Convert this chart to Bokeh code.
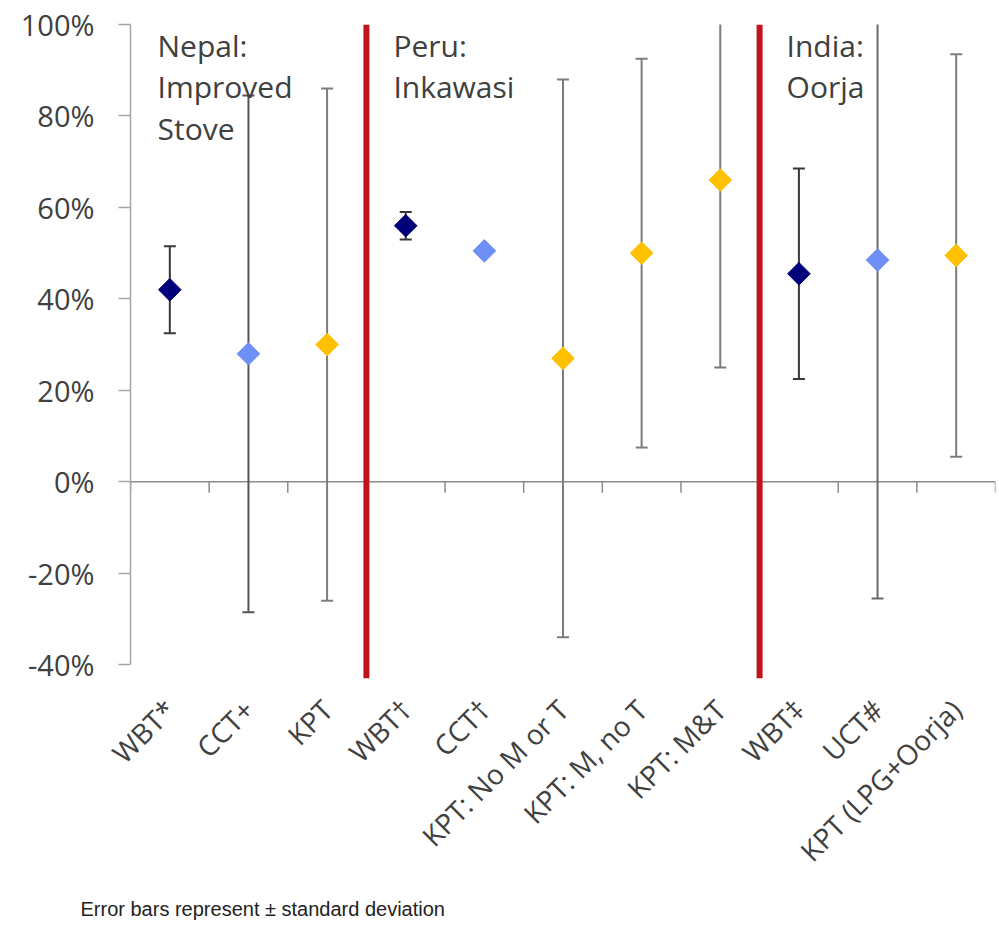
from math import pi, nan
from bokeh.plotting import figure
from bokeh.models import Range1d, FixedTicker, PrintfTickFormatter, Label, Span, ColumnDataSource, Title
from bokeh.core.properties import value
from bokeh.embed import file_html
from bokeh.resources import INLINE

# ---- data ----
categories = ["WBT*", "CCT+", "KPT", "WBT\u2020", "CCT\u2020", "KPT: No M or T",
              "KPT: M, no T", "KPT: M&T", "WBT\u2021", "UCT#", "KPT (LPG+Oorja)"]
test_type = ["WBT", "CCT", "KPT", "WBT", "CCT", "KPT", "KPT", "KPT", "WBT", "UCT", "KPT"]
mean_pct = [42, 28, 30, 56, 50.5, 27, 50, 66, 45.5, 48.5, 49.5]
sd_pct = [9.5, 56.5, 56, 3, nan, 61, 42.5, 41, 23, 74, 44]
group_names = ["Nepal:\nImproved\nStove", "Peru:\nInkawasi", "India:\nOorja"]
group_start = [0, 3, 8]
y_ticks = [-40, -20, 0, 20, 40, 60, 80, 100]
note = "Error bars represent \u00b1 standard deviation"

# ---- styles ----
marker_color = {"WBT": "#00007A", "CCT": "#6E8FF6", "UCT": "#6E8FF6", "KPT": "#FFC000"}
bar_color = {"WBT": "#383838", "CCT": "#555555", "UCT": "#6A6A6A", "KPT": "#7C7C7C"}
FONT = "Open Sans"
TXT = "#404040"

n = len(categories)
xs = list(range(n))
lower = [m - s for m, s in zip(mean_pct, sd_pct)]
upper = [m + s for m, s in zip(mean_pct, sd_pct)]

src = ColumnDataSource(dict(
    x=xs, mean=mean_pct, lower=lower, upper=upper,
    mc=[marker_color[t] for t in test_type],
    bc=[bar_color[t] for t in test_type],
))

Y0, Y1 = -43, 100
p = figure(width=999, height=929, output_backend="svg", toolbar_location=None,
           x_range=Range1d(-0.5, n - 0.5), y_range=Range1d(Y0, Y1),
           min_border_left=130, min_border_right=4, min_border_top=24,
           min_border_bottom=251)
p.outline_line_color = None
p.xgrid.visible = False
p.ygrid.visible = False

# zero line with boundary ticks
p.add_layout(Span(location=0, dimension="width", line_color="#8C8C8C",
                  line_width=1.5, level="underlay"))
p.ray(x=[i - 0.5 for i in range(n + 1)], y=0, length=11, angle=-pi / 2,
      length_units="screen", line_color="#8C8C8C", line_width=1.5)

# group separators
for g in group_start[1:]:
    p.add_layout(Span(location=g - 0.5, dimension="height", line_color="#C0141C",
                      line_width=6))

# error bars
p.segment(x0="x", y0="lower", x1="x", y1="upper", source=src,
          line_color="bc", line_width=2)
p.scatter(x="x", y="lower", source=src, marker="dash", size=12,
          line_color="bc", line_width=2)
p.scatter(x="x", y="upper", source=src, marker="dash", size=12,
          line_color="bc", line_width=2)

# points
p.scatter(x="x", y="mean", source=src, marker="square", angle=pi / 4, size=16,
          fill_color="mc", line_color="mc")

# group labels
for name, g in zip(group_names, group_start):
    p.add_layout(Label(x=g - 0.5, y=Y1, x_offset=27, y_offset=0, text=name,
                       text_baseline="top", text_align="left",
                       text_font=FONT, text_font_size="30px",
                       text_color=TXT, text_line_height=1.02))

# y axis
ya = p.yaxis[0]
ya.ticker = FixedTicker(ticks=y_ticks)
ya.formatter = PrintfTickFormatter(format="%d%%")
ya.bounds = (y_ticks[0], y_ticks[-1])
ya.axis_line_color = "#A6A6A6"
ya.axis_line_width = 1.5
ya.major_tick_line_color = "#A6A6A6"
ya.major_tick_line_width = 1.5
ya.major_tick_out = 12
ya.major_tick_in = 0
ya.minor_tick_line_color = None
ya.major_label_standoff = 24
ya.major_label_text_font = FONT
ya.major_label_text_font_size = "29px"
ya.major_label_text_color = TXT

# x axis (category labels)
xa = p.xaxis[0]
xa.ticker = FixedTicker(ticks=xs)
xa.major_label_overrides = {i: c for i, c in enumerate(categories)}
xa.major_label_orientation = pi / 4
xa.axis_line_color = None
xa.major_tick_line_color = None
xa.minor_tick_line_color = None
xa.major_label_standoff = 20
xa.major_label_text_font = FONT
xa.major_label_text_font_size = "28px"
xa.major_label_text_color = TXT

# note below the category labels
p.add_layout(Title(text=note, align="left", offset=-50, standoff=20,
                   text_font="'Liberation Sans Narrow', 'Liberation Sans', sans-serif",
                   text_font_size="20px", text_font_style="normal",
                   text_color="#222222"), "below")

open("out.html", "w").write(file_html(p, INLINE))
